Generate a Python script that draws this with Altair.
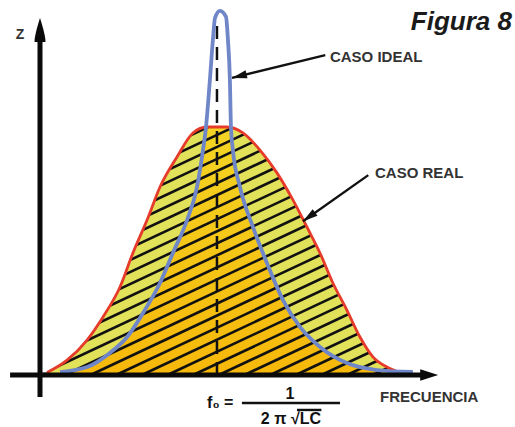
import altair as alt
import pandas as pd
import numpy as np

# ---------------- data ----------------
# frequency in units of f0 (f0 = 1), impedance Z normalised to the real-case peak
real_f = [0.040, 0.153, 0.266, 0.356, 0.452, 0.525, 0.605, 0.678, 0.774, 0.864, 0.944,
          1.056, 1.147, 1.243, 1.339, 1.429, 1.508, 1.582, 1.655, 1.734, 1.808, 1.881,
          1.960, 2.034]
real_z = [0.010, 0.060, 0.141, 0.234, 0.355, 0.492, 0.625, 0.758, 0.879, 0.976, 1.000,
          1.000, 0.976, 0.907, 0.815, 0.706, 0.597, 0.492, 0.371, 0.262, 0.153, 0.073,
          0.032, 0.010]

ideal_f = [0.113, 0.266, 0.395, 0.492, 0.582, 0.678, 0.751, 0.831, 0.887, 0.921, 0.938,
           0.960, 0.977, 0.989, 1.017, 1.051, 1.062, 1.073, 1.079, 1.090, 1.130, 1.203,
           1.282, 1.373, 1.469, 1.582, 1.734, 1.904, 2.107]
ideal_z = [0.012, 0.032, 0.089, 0.153, 0.250, 0.371, 0.492, 0.625, 0.758, 0.907, 1.000,
           1.190, 1.351, 1.440, 1.468, 1.444, 1.351, 1.190, 1.000, 0.907, 0.758, 0.597,
           0.452, 0.302, 0.194, 0.113, 0.048, 0.020, 0.012]

f0 = 1.0
labels_txt = ["CASO IDEAL", "CASO REAL"]
title_txt = "Figura 8"
x_label = "FRECUENCIA"
y_label = "Z"

# ---------------- derived tables ----------------
real_df = pd.DataFrame({"f": real_f, "z": real_z, "z0": 0.0})
ideal_df = pd.DataFrame({"f": ideal_f, "z": ideal_z})
peak_real = max(real_z)
gold_df = pd.DataFrame({"f": ideal_f, "z": [min(v, peak_real) for v in ideal_z], "z0": 0.0})

# hatch (style only)
slope = 0.335
starts = np.arange(-3.05, 2.1, 0.145)
hatch_df = pd.DataFrame({"f": starts, "z": 0.0, "f2": starts + 3.3, "z2": 3.3 * slope})

top = 1.6
mask_df = pd.DataFrame({"f": [-0.4] + real_f + [2.9], "z": [0.0] + real_z + [0.0], "z2": top})

XS = alt.Scale(domain=[-0.226, 2.684], nice=False, zero=False)
YS = alt.Scale(domain=[-0.2097, 1.5121], nice=False, zero=False)


def X(field="f"):
    return alt.X(f"{field}:Q", scale=XS, axis=None)


def Y(field="z"):
    return alt.Y(f"{field}:Q", scale=YS, axis=None)


FONT = "Liberation Sans"
TXT = "#333333"
INK = "#0a0a0a"

pale = alt.Chart(real_df).mark_area(interpolate="monotone", color="#e2e25a").encode(
    x=X(), y=Y(), y2="z0")

gold = alt.Chart(gold_df).mark_area(
    interpolate="monotone",
    color=alt.Gradient(gradient="linear",
                       stops=[alt.GradientStop(color="#f3d424", offset=0),
                              alt.GradientStop(color="#f6b80a", offset=1)],
                       x1=0, x2=0, y1=0, y2=1)).encode(x=X(), y=Y(), y2="z0")

hatch = alt.Chart(hatch_df).mark_rule(color="#111111", strokeWidth=2.6, clip=True).encode(
    x=X(), y=Y(), x2="f2", y2="z2")

mask = alt.Chart(mask_df).mark_area(interpolate="monotone", color="white").encode(
    x=X(), y=Y(), y2="z2")

dash_df = pd.DataFrame({"f": [f0], "z": [0.0], "z2": [1.43]})
dashed = alt.Chart(dash_df).mark_rule(color="#111111", strokeWidth=2.5, strokeDash=[13, 8]).encode(
    x=X(), y=Y(), y2="z2")

red = alt.Chart(real_df).mark_line(interpolate="monotone", color="#e63a2a", strokeWidth=2.8).encode(
    x=X(), y=Y())

blue = alt.Chart(ideal_df).mark_line(interpolate="monotone", color="#6f86c8", strokeWidth=3.8).encode(
    x=X(), y=Y())

# axes (drawn as two-point lines)
vaxis_df = pd.DataFrame({"f": [0.0, 0.0], "z": [-0.089, 1.36]})
haxis_df = pd.DataFrame({"f": [-0.169, 2.16], "z": [0.0, 0.0]})
vaxis = alt.Chart(vaxis_df).mark_line(color=INK, strokeWidth=5).encode(x=X(), y=Y(), order="z:Q")
haxis = alt.Chart(haxis_df).mark_line(color=INK, strokeWidth=5).encode(x=X(), y=Y())

vhead = alt.Chart(pd.DataFrame({"f": [0.0], "z": [1.44]})).mark_point(
    shape="M0,0C0.25,0.8 0.55,1.8 0.55,2.4L-0.55,2.4C-0.55,1.8 -0.25,0.8 0,0Z",
    size=400, filled=True, color=INK, opacity=1, strokeWidth=0).encode(x=X(), y=Y())
hhead = alt.Chart(pd.DataFrame({"f": [2.25], "z": [0.0]})).mark_point(
    shape="M0,0L-2,-0.65L-2,0.65Z",
    size=324, filled=True, color=INK, opacity=1, strokeWidth=0).encode(x=X(), y=Y())

# label arrows
arrows_df = pd.DataFrame({
    "f": [1.612, 1.855], "z": [1.290, 0.806],
    "f2": [1.085, 1.486], "z2": [1.198, 0.620],
    "ang": [166, 144],
})
arrow_lines = alt.Chart(arrows_df).mark_rule(color="#111111", strokeWidth=2.4).encode(
    x=X(), y=Y(), x2="f2", y2="z2")
arrow_heads = alt.Chart(arrows_df).mark_point(
    shape="M0,0L-2.2,-0.6L-2.2,0.6Z", size=185, filled=True, color="#111111",
    opacity=1, strokeWidth=0).encode(
    x=X("f2"), y=Y("z2"), angle=alt.Angle("ang:Q", scale=None))

# texts
text_df = pd.DataFrame({
    "f": [1.638, 1.893], "z": [1.262, 0.794], "t": labels_txt})
labels = alt.Chart(text_df).mark_text(
    font=FONT, fontSize=15, fontWeight="bold", color=TXT, align="left", baseline="alphabetic"
).encode(x=X(), y=Y(), text="t:N")

title = alt.Chart(pd.DataFrame({"f": [2.667], "z": [1.390], "t": [title_txt]})).mark_text(
    font=FONT, fontSize=26, fontWeight="bold", fontStyle="italic", color="#1a1a1a",
    align="right", baseline="alphabetic").encode(x=X(), y=Y(), text="t:N")

zlab = alt.Chart(pd.DataFrame({"f": [-0.113], "z": [1.371], "t": [y_label]})).mark_text(
    font=FONT, fontSize=14, fontWeight="bold", color=TXT, align="center", baseline="middle"
).encode(x=X(), y=Y(), text="t:N")

xlab = alt.Chart(pd.DataFrame({"f": [1.921], "z": [-0.109], "t": [x_label]})).mark_text(
    font=FONT, fontSize=15, fontWeight="bold", color=TXT, align="left", baseline="alphabetic"
).encode(x=X(), y=Y(), text="t:N")

# resonance formula
formula_df = pd.DataFrame({
    "f": [0.944, 1.412, 1.418], "z": [-0.113, -0.097, -0.198],
    "t": ["f₀ =", "1", "2 π √LC"]})
formula_left = alt.Chart(formula_df.iloc[[0]]).mark_text(
    font=FONT, fontSize=16, fontWeight="bold", color="#111111", align="left", baseline="middle"
).encode(x=X(), y=Y(), text="t:N")
formula_rest = alt.Chart(formula_df.iloc[1:]).mark_text(
    font=FONT, fontSize=16, fontWeight="bold", color="#111111", align="center", baseline="alphabetic"
).encode(x=X(), y=Y(), text="t:N")
bars_df = pd.DataFrame({"f": [1.141, 1.452], "f2": [1.695, 1.590], "z": [-0.113, -0.141]})
frac_bar = alt.Chart(bars_df).mark_rule(color="#111111", strokeWidth=2.4).encode(
    x=X(), x2="f2", y=Y())

chart = alt.layer(
    pale, gold, hatch, mask, dashed, red, blue,
    vaxis, haxis, vhead, hhead, arrow_lines, arrow_heads,
    labels, title, zlab, xlab, formula_left, formula_rest, frac_bar
).properties(
    width=515, height=427, padding=0, autosize=alt.AutoSizeParams(type="none"),
    background="white"
).configure_view(stroke=None)

chart.save("out.html", embed_options={"renderer": "svg", "actions": False})
